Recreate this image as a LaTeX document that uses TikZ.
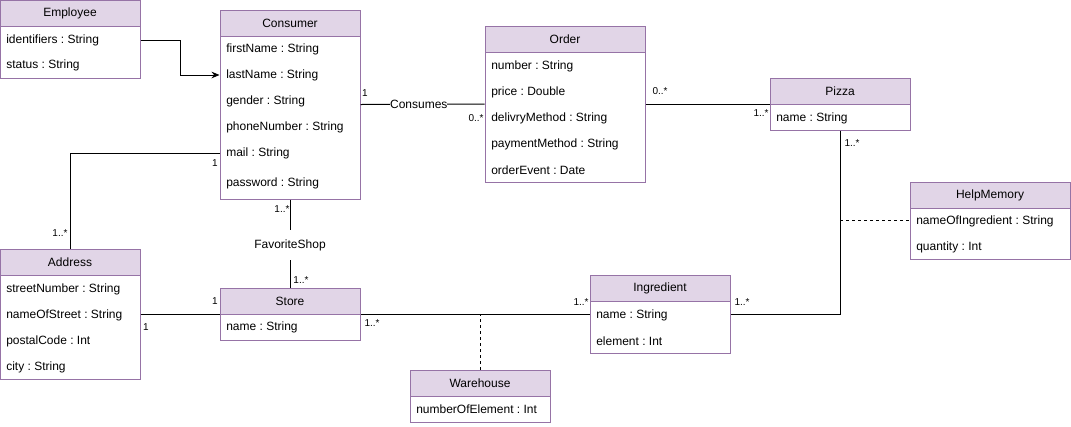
\documentclass[tikz,border=0pt]{standalone}
\usepackage{fontspec}
\setmainfont{Liberation Sans}
\usetikzlibrary{fit,arrows.meta}
\definecolor{hdr}{HTML}{E1D5E7}
\definecolor{strk}{HTML}{9673A6}
\frenchspacing
\begin{document}
\frenchspacing
\begin{tikzpicture}[x=0.75pt,y=-0.75pt,
 classbox/.style={draw=strk,line width=0.75pt,fill=white,inner sep=0pt},
 classhead/.style={draw=strk,line width=0.75pt,fill=hdr,inner sep=0pt},
 title/.style={inner sep=0pt,font=\fontsize{9}{11}\selectfont},
 attr/.style={anchor=west,inner sep=0pt,font=\fontsize{9}{11}\selectfont},
 mult/.style={inner sep=0pt,font=\fontsize{7.5}{9}\selectfont},
 conn/.style={line width=0.75pt,draw=black},
 assocdash/.style={conn,dash pattern=on 2.25pt off 2.25pt},
 rel/.style={fill=white,inner xsep=0pt,inner ysep=0.5pt,font=\fontsize{9}{11}\selectfont},
 arr/.style={conn,-{Stealth[length=6pt,width=5pt]}}
]
\useasboundingbox (0,0) rectangle (1071,426);

% ---------- classes ----------
% Employee
\node[classbox,fit={(0,0)(140,78)}] (emp) {};
\node[classhead,fit={(0,0)(140,26)}] (empH) {};
\node[title] (empT) at (empH.center) {Employee};
\node[attr] (empR1) at (6,40) {identifiers : String};
\node[attr] (empR2) at (6,65) {status : String};

% Consumer
\node[classbox,fit={(220,10)(360,199)}] (cons) {};
\node[classhead,fit={(220,10)(360,36)}] (consH) {};
\node[title] (consT) at (consH.center) {Consumer};
\node[attr] (consR1) at (226,49) {firstName : String};
\node[attr] (consR2) at (226,75) {lastName : String};
\node[attr] (consR3) at (226,101) {gender : String};
\node[attr] (consR4) at (226,127) {phoneNumber : String};
\node[attr] (consR5) at (226,153) {mail : String};
\node[attr] (consR6) at (226,183) {password : String};

% Order
\node[classbox,fit={(485,26)(645,182)}] (order) {};
\node[classhead,fit={(485,26)(645,52)}] (orderH) {};
\node[title] (orderT) at (orderH.center) {Order};
\node[attr] (orderR1) at (491,66) {number : String};
\node[attr] (orderR2) at (491,92) {price : Double};
\node[attr] (orderR3) at (491,118) {delivryMethod : String};
\node[attr] (orderR4) at (491,144) {paymentMethod : String};
\node[attr] (orderR5) at (491,170) {orderEvent : Date};

% Pizza
\node[classbox,fit={(770,78)(910,130)}] (pizza) {};
\node[classhead,fit={(770,78)(910,104)}] (pizzaH) {};
\node[title] (pizzaT) at (pizzaH.center) {Pizza};
\node[attr] (pizzaR1) at (776,118) {name : String};

% HelpMemory
\node[classbox,fit={(910,182)(1070,259)}] (help) {};
\node[classhead,fit={(910,182)(1070,208)}] (helpH) {};
\node[title] (helpT) at (helpH.center) {HelpMemory};
\node[attr] (helpR1) at (916,221) {nameOfIngredient : String};
\node[attr] (helpR2) at (916,247) {quantity : Int};

% Address
\node[classbox,fit={(0,249)(140,379)}] (addr) {};
\node[classhead,fit={(0,249)(140,275)}] (addrH) {};
\node[title] (addrT) at (addrH.center) {Address};
\node[attr] (addrR1) at (6,289) {streetNumber : String};
\node[attr] (addrR2) at (6,315) {nameOfStreet : String};
\node[attr] (addrR3) at (6,341) {postalCode : Int};
\node[attr] (addrR4) at (6,367) {city : String};

% Store
\node[classbox,fit={(220,288)(360,340)}] (store) {};
\node[classhead,fit={(220,288)(360,314)}] (storeH) {};
\node[title] (storeT) at (storeH.center) {Store};
\node[attr] (storeR1) at (226,327) {name : String};

% Ingredient
\node[classbox,fit={(590,275)(730,353)}] (ingr) {};
\node[classhead,fit={(590,275)(730,301)}] (ingrH) {};
\node[title] (ingrT) at (ingrH.center) {Ingredient};
\node[attr] (ingrR1) at (596,315) {name : String};
\node[attr] (ingrR2) at (596,341) {element : Int};

% Warehouse
\node[classbox,fit={(410,370)(550,422)}] (ware) {};
\node[classhead,fit={(410,370)(550,396)}] (wareH) {};
\node[title] (wareT) at (wareH.center) {Warehouse};
\node[attr] (wareR1) at (416,409) {numberOfElement : Int};

% ---------- connectors ----------
\draw[arr] (emp.east |- empR1) -- ++(40,0) |- (cons.west |- consR2);

\draw[conn] (cons.east) -- (order.west)
  node[rel,pos=0.47] (consumes) {Consumes};
\draw[conn] (order.east) -- (pizza.west);
\draw[conn] (pizza.south) |- (ingr.east);
\draw[assocdash] (pizza.south |- help.west) -- (help.west);
\draw[conn] (store.east) -- (ingr.west);
\draw[assocdash] (ware.north) -- (ware.north |- store.east);
\draw[conn] (cons.south) -- (store.north)
  node[rel,inner ysep=7pt,pos=0.52] (fav) {FavoriteShop};
\draw[conn] (cons.west |- consR5) -| (addr.north);
\draw[conn] (addr.east) -- (store.west);

% ---------- multiplicities ----------
\node[mult] (m1) at (365,93) {1};
\node[mult] (m2) at (476,118) {0..*};
\node[mult] (m3) at (660,91) {0..*};
\node[mult] (m4) at (761,113) {1..*};
\node[mult] (m5) at (852,143) {1..*};
\node[mult] (m6) at (742,302) {1..*};
\node[mult] (m7) at (581,302) {1..*};
\node[mult] (m8) at (372,323) {1..*};
\node[mult] (m9) at (215,163) {1};
\node[mult] (m10) at (60,233) {1..*};
\node[mult] (m11) at (282,209) {1..*};
\node[mult] (m12) at (301,280) {1..*};
\node[mult] (m13) at (215,301) {1};
\node[mult] (m14) at (146,327) {1};
\end{tikzpicture}
\end{document}
